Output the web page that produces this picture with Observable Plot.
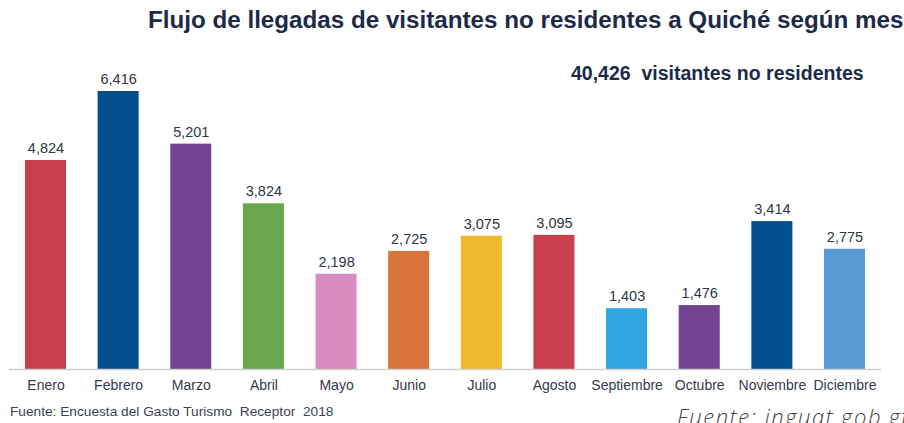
<!DOCTYPE html>
<html>
<head>
<meta charset="utf-8">
<script src="https://cdn.jsdelivr.net/npm/d3@7"></script>
<script src="https://cdn.jsdelivr.net/npm/@observablehq/plot@0.6"></script>
<style>
  html, body { margin: 0; padding: 0; background: #fff; width: 904px; height: 423px; overflow: hidden; position: relative; font-family: "Liberation Sans", Arial, sans-serif; }
  #title { position: absolute; left: 148px; top: 6px; font-size: 24.2px; font-weight: bold; color: #1c2a48; white-space: nowrap; }
  #subtitle { position: absolute; left: 571px; top: 62px; font-size: 19.5px; font-weight: bold; color: #1c2a48; white-space: nowrap; }
  #chart { position: absolute; left: 0; top: 0; }
  #foot1 { position: absolute; left: 10px; top: 404px; font-size: 13.7px; color: #3a4256; white-space: nowrap; }
  #foot2 { position: absolute; left: 677px; top: 401px; font-size: 22px; letter-spacing: 1.6px; font-style: italic; font-weight: 300; color: #444; white-space: nowrap; font-family: "Open Sans", sans-serif; }
</style>
</head>
<body>
<div id="chart"></div>
<div id="title">Flujo de llegadas de visitantes no residentes a Quiché según mes</div>
<div id="subtitle">40,426&nbsp; visitantes no residentes</div>
<div id="foot1">Fuente: Encuesta del Gasto Turismo&nbsp; Receptor&nbsp; 2018</div>
<div id="foot2">Fuente: inguat.gob.gt</div>
<script>
const months = ["Enero","Febrero","Marzo","Abril","Mayo","Junio","Julio","Agosto","Septiembre","Octubre","Noviembre","Diciembre"];
const visitors = [4824, 6416, 5201, 3824, 2198, 2725, 3075, 3095, 1403, 1476, 3414, 2775];
const colors = ["#c8404e","#034e8c","#744493","#6aa84f","#d98cbf","#d6743c","#ebb82e","#c8404e","#2fa6e0","#744493","#034e8c","#5b9bd5"];

const data = months.map((m, i) => ({month: m, value: visitors[i], color: colors[i]}));
const fmt = d3.format(",");

const chart = Plot.plot({
  width: 904,
  height: 423,
  marginTop: 91,
  marginBottom: 54,
  marginLeft: 9,
  marginRight: 23,
  style: {fontFamily: "'Liberation Sans', Arial, sans-serif", fontSize: "14px", color: "#333a4c", background: "transparent"},
  x: {domain: months, paddingInner: 0.435, paddingOuter: 0.22, round: false, label: null, tickSize: 0, tickPadding: 11},
  y: {domain: [0, 6416], axis: null},
  marks: [
    Plot.barY(data, {x: "month", y: "value", fill: "color"}),
    Plot.ruleY([0], {stroke: "#cfcfcf", strokeWidth: 1.5}),
    Plot.text(data, {x: "month", y: "value", text: d => fmt(d.value), dy: -12, fill: "#2e3648", fontSize: 14.5})
  ]
});
document.getElementById("chart").appendChild(chart);
</script>
</body>
</html>
